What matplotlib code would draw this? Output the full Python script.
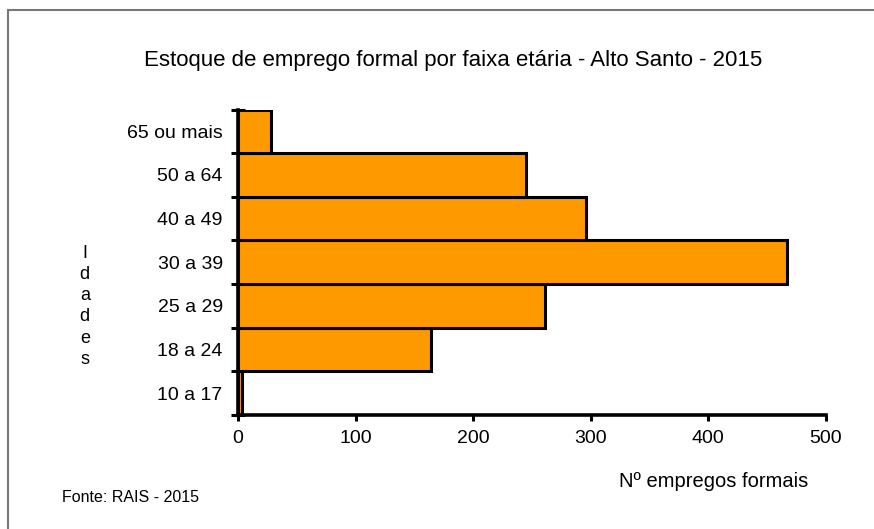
import matplotlib.pyplot as plt
from matplotlib.lines import Line2D

plt.rcParams['font.family'] = ['Liberation Sans', 'DejaVu Sans']

# faixas etárias (de baixo para cima) e número de empregos
faixas = ["10 a 17", "18 a 24", "25 a 29", "30 a 39", "40 a 49", "50 a 64", "65 ou mais"]
empregos = [3, 164, 261, 467, 296, 245, 28]
xticks = [0, 100, 200, 300, 400, 500]

fig = plt.figure(figsize=(8.74, 5.29), dpi=100)
ax = fig.add_axes([0.2723, 0.2155, 0.6727, 0.5775])

pos = range(len(faixas))
# sombra leve à direita/abaixo
ax.barh([p - 0.03 for p in pos], empregos, height=1.0, left=2,
        color="#FF9900", edgecolor="none", zorder=1)
ax.barh(pos, empregos, height=1.0, color="#FF9900", edgecolor="black",
        linewidth=2.2, zorder=2)

ax.set_xlim(0, 500)
ax.set_ylim(-0.5, len(faixas) - 0.5)
ax.set_xticks(xticks)
ax.set_xticklabels([str(v) for v in xticks], fontsize=14)
ax.set_yticks(list(pos))
ax.set_yticklabels(faixas, fontsize=14)
ax.set_yticks([p - 0.5 for p in range(len(faixas) + 1)], minor=True)
ax.tick_params(axis="y", which="major", length=0, pad=11)
ax.tick_params(axis="y", which="minor", length=10, width=2.2, direction="inout")
ax.tick_params(axis="x", length=4, width=2.2, direction="out", pad=7)

for s in ["top", "right"]:
    ax.spines[s].set_visible(False)
for s in ["left", "bottom"]:
    ax.spines[s].set_linewidth(2.6)

fig.text(0.518, 0.885, "Estoque de emprego formal por faixa etária - Alto Santo - 2015",
         ha="center", va="center", fontsize=16)
fig.text(0.816, 0.089, "Nº empregos formais", ha="center", va="center", fontsize=14.5)
fig.text(0.097, 0.421, "I\nd\na\nd\ne\ns", ha="center", va="center",
         fontsize=13, linespacing=1.32)
fig.text(0.071, 0.06, "Fonte: RAIS - 2015", ha="left", va="center", fontsize=11.5)

# moldura (só bordas esquerda e superior visíveis)
fig.add_artist(Line2D([0.0095, 0.0095], [0, 0.981], color="#777777", lw=1.5))
fig.add_artist(Line2D([0.0095, 1.0], [0.981, 0.981], color="#777777", lw=1.5))

fig.savefig("out.png", dpi=100)
